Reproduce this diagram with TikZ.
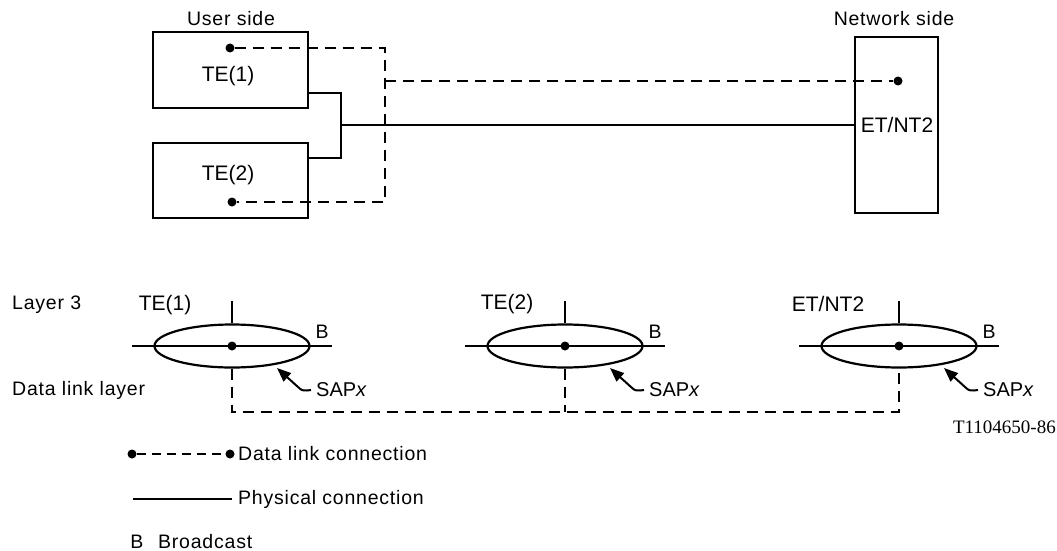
\documentclass[tikz,border=0pt]{standalone}
\usepackage{fontspec}
\setmainfont{Liberation Sans}
\newfontfamily\labfont[LetterSpace=4]{Liberation Sans}
\newfontfamily\serffont{Liberation Serif}
\usetikzlibrary{shapes.geometric,arrows.meta}
\tikzset{
  ln/.style={line width=2.2pt},
  dl/.style={line width=2.2pt, dash pattern=on 11pt off 7pt},
  boxs/.style={draw, line width=2.2pt, inner sep=0pt},
  dotn/.style={circle, fill, inner sep=0pt, minimum size=9pt},
  lens/.style={ellipse, draw, line width=2.2pt, inner sep=0pt, minimum width=155pt, minimum height=43pt},
  lab/.style={font=\labfont\fontsize{19.5}{21}\selectfont, inner sep=0pt},
  big/.style={font=\fontsize{21}{23}\selectfont, inner sep=0pt},
  sapt/.style={font=\fontsize{20}{22}\selectfont, inner sep=0pt},
  sap/.style={line width=2pt, -{Triangle[length=14pt,width=11pt]}},
}
\begin{document}
\begin{tikzpicture}[x=1pt,y=-1pt]
\useasboundingbox (0,0) rectangle (1057,551);

% ---------- top part ----------
\node[lab] (us) at (231,19) {User side};
\node[lab] (ns) at (894,19) {Network side};

\node[boxs, minimum width=155pt, minimum height=76pt] (te1) at (230.5,70) {};
\node[boxs, minimum width=155pt, minimum height=75pt] (te2) at (230.5,180.5) {};
\node[boxs, minimum width=83pt, minimum height=176pt] (et) at (896.5,125) {};

\node[big] (te1t) at (228,76) {TE(1)};
\node[big] (te2t) at (228,175) {TE(2)};
\node[big] (ett) at (897,125) {ET/NT2};

\node[dotn] (d1) at (230,48) {};
\node[dotn] (d2) at (232,202) {};
\node[dotn] (d3) at (898,81) {};

\coordinate (j1) at (385,81);
\draw[dl] (d1) -| (j1) |- (d2);
\draw[dl] (j1) -- (d3);

\coordinate (s1) at (341,125);
\draw[ln] ([yshift=-23pt]te1.east) -| (s1) |- ([yshift=22.5pt]te2.east);
\draw[ln] (s1) -- (et.west |- s1);

% ---------- bottom part ----------
\node[lab, anchor=west] (l3) at (12,305) {Layer 3};
\node[lab, anchor=west] (dll) at (12,390) {Data link layer};

\node[lens] (e1) at (232,346) {};
\node[lens] (e2) at (565,346) {};
\node[lens] (e3) at (899,346) {};

\node[big] (n1) at (165,305) {TE(1)};
\node[big] (n2) at (507,304) {TE(2)};
\node[big] (n3) at (828,304) {ET/NT2};

\foreach \i in {1,2,3} {
  \draw[ln] ([xshift=-100pt]e\i.center) -- ([xshift=100pt]e\i.center);
  \draw[ln] (e\i.north) -- ++(0,-22);
  \node[dotn] (c\i) at (e\i.center) {};
  \node[lab] (b\i) at ([shift={(90,-14)}]e\i.center) {B};
  \node[sapt, anchor=west] (sp\i) at ([shift={(84,44)}]e\i.center) {SAP\textit{x}};
  \coordinate (t\i) at ([shift={(45,22)}]e\i.center);
  \draw[sap] ([xshift=-5pt]sp\i.west) -- ([shift={(75,44.5)}]e\i.center)
     .. controls ([shift={(70,44.5)}]e\i.center) .. ([shift={(66,41)}]e\i.center) -- (t\i);
}

\coordinate (bl) at (232,412);
\coordinate (br) at (899,412);
\draw[dl] (e1.south) -- (bl) -- (br) -- (e3.south);
\draw[dl] (e2.south) -- (e2.south |- bl);

\node[font=\serffont\fontsize{19}{21}\selectfont, inner sep=0pt, anchor=east] (code) at (1056,427) {T1104650-86};

% ---------- legend ----------
\node[dotn] (ld1) at (132,454) {};
\node[dotn] (ld2) at (230,454) {};
\draw[line width=2pt, dash pattern=on 9pt off 6pt] (ld1) -- (ld2);
\node[lab, anchor=west] (lt1) at (238,454) {Data link connection};

\coordinate (lp1) at (133,499);
\coordinate (lp2) at (232,499);
\draw[ln] (lp1) -- (lp2);
\node[lab, anchor=west] (lt2) at (238,499) {Physical connection};

\node[lab] (lb) at (137,542) {B};
\node[lab, anchor=west] (lt3) at (158,542) {Broadcast};
\end{tikzpicture}
\end{document}
